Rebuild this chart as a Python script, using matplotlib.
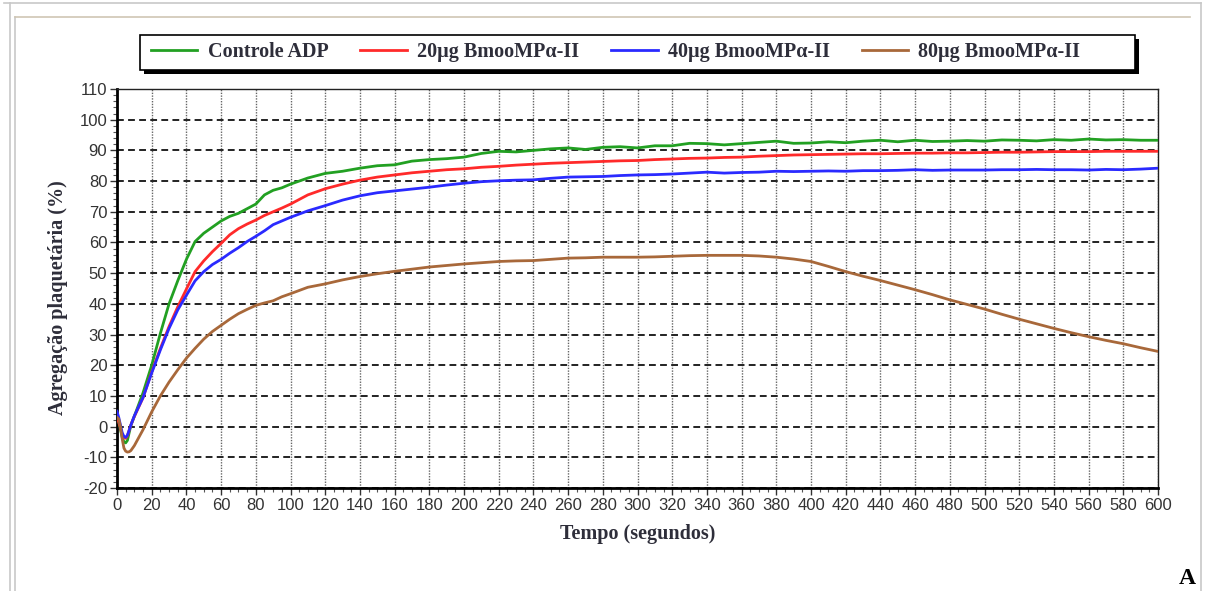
import numpy as np
import matplotlib.pyplot as plt
from matplotlib.patches import Rectangle
from matplotlib.lines import Line2D

plt.rcParams['axes.unicode_minus'] = False

# tempo (s): fine steps at the start, then 5 s, then 10 s
tempo = ([0, 1, 2, 3, 4, 5, 6, 7, 8, 9]
         + list(range(10, 100, 5))
         + list(range(100, 601, 10)))

controle = [3, 1.5, -1, -3.5, -5, -5.3, -4.5, -2, 0.4, 1.9,
            3.4, 11, 20, 30.4, 40, 47.5, 54.5, 60.3, 63, 65, 67, 68.5, 69.5, 71, 72.5, 75.5, 77, 77.8,
            79, 81, 82.5, 83.2, 84.2, 85, 85.3, 86.5, 87, 87.3, 87.8, 89, 89.7, 89.5, 90, 90.5, 90.8,
            90.3, 91, 91.2, 90.8, 91.5, 91.5, 92.3, 92.2, 91.8, 92.2, 92.6, 93, 92.3, 92.4, 92.8,
            92.5, 93, 93.3, 92.8, 93.3, 92.9, 93, 93.2, 93, 93.4, 93.3, 93.1, 93.5, 93.3, 93.7, 93.4,
            93.5, 93.3, 93.3]

dose20 = [3, 1.5, -0.5, -2.5, -3.6, -3.8, -3, -1.2, 0.5, 2,
          3.3, 9.4, 17.8, 25.5, 32.6, 39, 44.8, 50.5, 54, 57, 59.7, 62.5, 64.5, 66, 67.3, 68.8, 70, 71.2,
          72.5, 75.5, 77.5, 79, 80.3, 81.3, 82, 82.7, 83.2, 83.7, 84, 84.5, 84.8, 85.2, 85.5, 85.8, 86,
          86.2, 86.4, 86.6, 86.7, 87, 87.2, 87.4, 87.5, 87.7, 87.8, 88.1, 88.3, 88.5, 88.6, 88.7,
          88.8, 88.9, 88.9, 89, 89.1, 89.1, 89.2, 89.2, 89.3, 89.4, 89.4, 89.5, 89.6, 89.6, 89.6, 89.7,
          89.7, 89.7, 89.7]

dose40 = [5, 3, 0.5, -2, -3.2, -3.5, -2.8, -1.2, 0.5, 2,
          3.5, 9.5, 17.5, 25, 32, 38, 42.8, 47.5, 50.5, 52.8, 54.5, 56.5, 58.3, 60.3, 62, 63.8, 65.8, 67,
          68.2, 70.3, 72, 73.8, 75.2, 76.2, 76.8, 77.4, 78, 78.7, 79.3, 79.8, 80.1, 80.3, 80.4, 80.9,
          81.3, 81.4, 81.5, 81.8, 82, 82.1, 82.3, 82.6, 82.9, 82.6, 82.8, 82.9, 83.2, 83.1, 83.2,
          83.3, 83.2, 83.4, 83.4, 83.5, 83.7, 83.5, 83.6, 83.6, 83.6, 83.7, 83.7, 83.8, 83.7, 83.7,
          83.6, 83.8, 83.7, 83.9, 84.2]

dose80 = [3, 2.5, 0, -4, -7, -8, -8.3, -8.2, -7.8, -7,
          -6.2, -1, 4.8, 10, 14.5, 18.5, 22.3, 25.5, 28.5, 31, 33, 35, 36.8, 38.2, 39.5, 40.3, 41, 42.3,
          43.3, 45.4, 46.5, 47.8, 48.9, 49.8, 50.6, 51.3, 52, 52.5, 53, 53.4, 53.8, 54, 54.1, 54.5,
          54.9, 55, 55.2, 55.2, 55.2, 55.3, 55.5, 55.7, 55.8, 55.8, 55.8, 55.6, 55.2, 54.6, 53.8,
          52.2, 50.5, 49, 47.6, 46.1, 44.6, 43, 41.3, 39.8, 38.3, 36.6, 35, 33.5, 32, 30.6, 29.3,
          28.1, 27, 25.7, 24.5]

series = [controle, dose20, dose40, dose80]
labels = ['Controle ADP', '20µg BmooMPα-II', '40µg BmooMPα-II', '80µg BmooMPα-II']
colors = ['#22a022', '#ff2a2a', '#2a2aff', '#a8683a']

W, H = 1205, 591
fig = plt.figure(figsize=(W / 100, H / 100), dpi=100)
fig.patch.set_facecolor('white')

# outer frame decoration
frame_kw = dict(transform=fig.transFigure, lw=1.2)
fig.add_artist(Line2D([0.003, 0.997], [1 - 3 / H, 1 - 3 / H], color='#c8c8c8', **frame_kw))
fig.add_artist(Line2D([10 / W, 10 / W], [0, 1 - 3 / H], color='#c8c8c8', **frame_kw))
fig.add_artist(Line2D([15 / W, 15 / W], [0, 1 - 17 / H], color='#c8c8c8', **frame_kw))
fig.add_artist(Line2D([15 / W, 1190 / W], [1 - 17 / H, 1 - 17 / H], color='#cfc6b4', **frame_kw))
fig.add_artist(Line2D([1201 / W, 1201 / W], [0, 1 - 3 / H], color='#c8c8c8', **frame_kw))

ax = fig.add_axes([117 / W, 1 - 488 / H, (1158 - 117) / W, (488 - 89) / H])
for y, lab, c in zip(series, labels, colors):
    ax.plot(tempo, y, color=c, lw=1.1, label=lab, zorder=3)

ax.set_xlim(0, 600)
ax.set_ylim(-20, 110)
ax.set_xticks(np.arange(0, 601, 20))
ax.set_yticks(np.arange(-20, 111, 10))
ax.set_xticks(np.arange(0, 601, 5), minor=True)
ax.set_yticks(np.arange(-20, 111, 2), minor=True)
ax.set_axisbelow(True)
ax.yaxis.grid(True, which='major', color='#222222', linestyle=(0, (3.5, 2.2)), lw=1.4)
ax.xaxis.grid(True, which='major', color='#666666', linestyle=(0, (1, 1)), lw=1.0)

ax.tick_params(axis='both', which='major', length=5, width=1, color='#333333',
               labelcolor='#333333', labelsize=12, pad=2)
ax.tick_params(axis='both', which='minor', length=3, width=0.8, color='#555555')
for lbl in ax.get_xticklabels() + ax.get_yticklabels():
    lbl.set_family('Liberation Sans')

for side in ['left', 'bottom']:
    ax.spines[side].set_linewidth(2)
for side in ['top', 'right']:
    ax.spines[side].set_linewidth(1)
    ax.spines[side].set_color('#222222')

label_font = dict(family='Liberation Serif', weight='bold', size=14.5, color='#2e2e3a')
ax.set_xlabel('Tempo (segundos)', labelpad=8, **label_font)
ax.set_ylabel('Agregação plaquetária (%)', **label_font)
ax.yaxis.set_label_coords(-0.047, 0.476)

# legend box with hard black shadow
lx0, lx1, ly0, ly1 = 140, 1135, 35, 70
fig.add_artist(Rectangle((lx0 / W + 4 / W, 1 - ly1 / H - 4 / H), (lx1 - lx0) / W, (ly1 - ly0) / H,
                         transform=fig.transFigure, facecolor='black', edgecolor='none', zorder=5))
fig.add_artist(Rectangle((lx0 / W, 1 - ly1 / H), (lx1 - lx0) / W, (ly1 - ly0) / H,
                         transform=fig.transFigure, facecolor='white', edgecolor='black', lw=1.2, zorder=6))
handles, labs = ax.get_legend_handles_labels()
for h in handles:
    h.set_linewidth(2)
leg = fig.legend(handles, labs, loc='center left', bbox_to_anchor=(133 / W, 1 - 52 / H),
                 ncol=4, frameon=False, handlelength=2.3, handletextpad=0.5, columnspacing=1.6,
                 prop=dict(family='Liberation Serif', weight='bold', size=14.5))
leg.set_zorder(7)
for t in leg.get_texts():
    t.set_color('#2e2e3a')

fig.text(1187 / W, 1 - 578 / H, 'A', ha='center', va='center', family='Liberation Serif',
         weight='bold', size=17, color='black')

fig.savefig('out.png', dpi=100)
